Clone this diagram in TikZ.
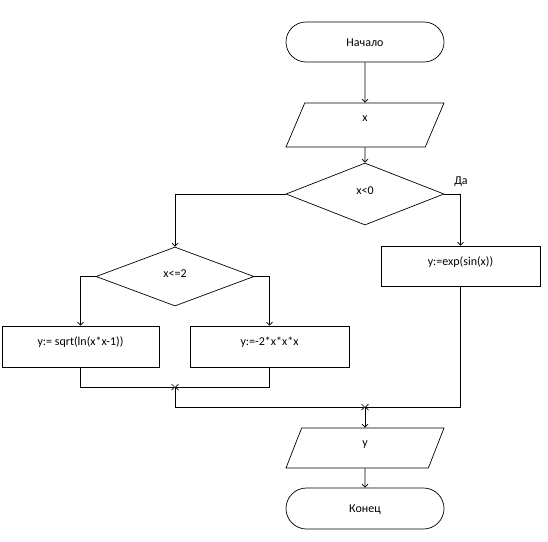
\documentclass[tikz,border=0pt]{standalone}
\usepackage{fontspec}
\setmainfont{Carlito}
\usepackage{tikz}
\usetikzlibrary{shapes.geometric,shapes.misc,arrows.meta}

\begin{document}
\begin{tikzpicture}[x=1pt, y=-1pt, line width=0.7pt,
    font=\fontsize{12}{14}\selectfont,
    >={Straight Barb[length=3pt,width=6pt]},
    every node/.style={inner sep=0pt, text height=8pt},
    term/.style={rounded rectangle, draw, minimum width=158pt, minimum height=40pt, text depth=0pt},
    io/.style={trapezium, trapezium left angle=52, trapezium right angle=128, trapezium stretches body, draw, minimum width=158pt, text depth=12pt},
    cond/.style={diamond, draw, minimum width=158pt, text depth=7pt},
    proc/.style={rectangle, draw, minimum height=41pt, text depth=11pt}]
    \useasboundingbox (0,0) rectangle (548,541);

    \node[term] (start) at (365,42) {Начало};
    \node[io, minimum height=44pt, text depth=16pt] (inx) at (365,125) {x};
    \node[cond, minimum height=62pt] (cond1) at (365,194) {x<0};
    \node[proc, minimum width=159pt, minimum height=40pt, text depth=10pt] (expy) at (460.5,266) {y:=exp(sin(x))};
    \node[cond, minimum height=59pt] (cond2) at (175,276.5) {x<=2};
    \node[proc, minimum width=157pt] (sqrty) at (80.5,346.5) {y:= sqrt(ln(x*x-1))};
    \node[proc, minimum width=159pt] (cubey) at (269.5,346.5) {y:=-2*x*x*x};
    \node[io, minimum height=40pt] (outy) at (365,448) {y};
    \node[term, minimum height=41pt] (stop) at (365,508.5) {Конец};
    \node[text depth=0pt] (yes) at (461,180) {Да};

    \coordinate (join1) at (175,387);
    \coordinate (join2) at (365,407);

    \draw[->] (start) -- (inx);
    \draw[->] (inx) -- (cond1);
    \draw[->] (cond1.east) -| (expy.north);
    \draw[->] (cond1.west) -| (cond2.north);
    \draw[->] (cond2.west) -| (sqrty.north);
    \draw[->] (cond2.east) -| (cubey.north);
    \draw[->] (sqrty.south) |- (join1);
    \draw[->] (cubey.south) |- (join1);
    \draw[->] (join1) |- (join2);
    \draw[->] (expy.south) |- (join2);
    \draw[->] (join2) -- (outy);
    \draw[->] (outy) -- (stop);
\end{tikzpicture}
\end{document}
